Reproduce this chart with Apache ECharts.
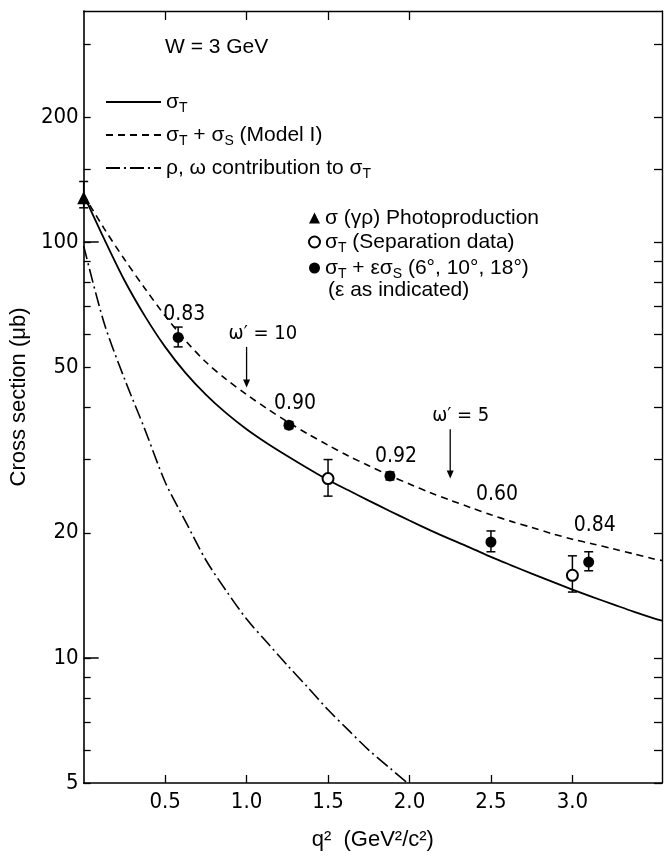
<!DOCTYPE html>
<html>
<head>
<meta charset="utf-8">
<script src="https://cdn.jsdelivr.net/npm/echarts@6/dist/echarts.min.js"></script>
<style>html,body{margin:0;background:#fff}#chart{width:665px;height:859px}</style>
</head>
<body>
<div id="chart"></div>
<script>
// model curves, q^2 in GeV^2/c^2, cross sections in microbarn
const qCurve = [0, 0.125, 0.25, 0.375, 0.5, 0.625, 0.75, 0.875, 1.0, 1.125, 1.25, 1.375, 1.5, 1.625, 1.75, 1.875,
  2.0, 2.125, 2.25, 2.375, 2.5, 2.625, 2.75, 2.875, 3.0, 3.125, 3.25, 3.375, 3.5, 3.55];
const sigmaT = [130, 102, 81, 66.5, 56, 48.5, 43, 38.8, 35.5, 32.85, 30.6, 28.6, 26.8, 25.3, 23.9, 22.6,
  21.4, 20.3, 19.3, 18.4, 17.5, 16.7, 15.95, 15.26, 14.6, 14.0, 13.45, 12.92, 12.45, 12.3];
const sigmaTS = [130, 108, 91, 77.5, 66.5, 58, 51.5, 46.8, 43, 39.8, 37, 34.6, 32.5, 30.6, 29, 27.5,
  26.2, 25, 23.95, 23, 22.1, 21.3, 20.6, 19.9, 19.3, 18.8, 18.3, 17.8, 17.3, 17.15];
const qRho = [0, 0.125, 0.25, 0.375, 0.5, 0.625, 0.75, 0.875, 1.0, 1.125, 1.25, 1.375, 1.5, 1.625, 1.75, 1.875, 2.0, 2.125];
const rhoOmega = [98, 64, 47, 35.5, 26.5, 21.3, 17.2, 14.5, 12.4, 10.9, 9.6, 8.5, 7.5, 6.7, 6.0, 5.45, 4.95, 4.5];

// measured points
const photoQ = [0], photoY = [128], photoLo = [121], photoHi = [140];
const sepQ = [1.5, 3.0], sepY = [27, 15.8], sepLo = [24.5, 14.4], sepHi = [30, 17.6];
const epsQ = [0.58, 1.26, 1.88, 2.5, 3.1];
const epsY = [59, 36.3, 27.4, 19.0, 17.0];
const epsLo = [56, 35.6, 26.8, 18.0, 16.2];
const epsHi = [62.5, 37, 28, 20.2, 18.0];
const epsText = ['0.83', '0.90', '0.92', '0.60', '0.84'];

// omega' markers
const arrowQ = [1.0, 2.25], arrowFrom = [56, 35.5], arrowTo = [44.7, 27];
const arrowText = ['ω′ = 10', 'ω′ = 5'];

// axes
const xLabels = [0.5, 1.0, 1.5, 2.0, 2.5, 3.0];
const xTopTicks = [0.5, 1.0, 1.5, 2.0];
const yLabels = [5, 10, 20, 50, 100, 200];
const yTicks = [5, 6, 7, 8, 9, 10, 20, 30, 40, 50, 60, 70, 80, 90, 100, 150, 200, 300];
const yMajor = [10, 100];

const FONT = "'Liberation Sans', 'DejaVu Sans', sans-serif";
const NARROW = "'Liberation Sans Narrow', 'DejaVu Sans Condensed', 'Liberation Sans', sans-serif";
const black = '#000';
const labelRise = [7, 6, 3, 31, 21];

const pairs = (xs, ys) => xs.map((x, i) => [x, ys[i]]);
const bars = (xs, lo, hi) => xs.map((x, i) => [x, lo[i], hi[i]]);

function errorBar(params, api) {
  const x = api.value(0);
  const top = api.coord([x, api.value(2)]);
  const bot = api.coord([x, api.value(1)]);
  const w = 4.5, st = { stroke: black, lineWidth: 1.5 };
  return { type: 'group', children: [
    { type: 'line', shape: { x1: top[0], y1: top[1], x2: bot[0], y2: bot[1] }, style: st },
    { type: 'line', shape: { x1: top[0] - w, y1: top[1], x2: top[0] + w, y2: top[1] }, style: st },
    { type: 'line', shape: { x1: bot[0] - w, y1: bot[1], x2: bot[0] + w, y2: bot[1] }, style: st }
  ]};
}

function arrow(params, api) {
  const x = api.value(0);
  const p0 = api.coord([x, api.value(1)]);
  const p1 = api.coord([x, api.value(2)]);
  return { type: 'group', children: [
    { type: 'line', shape: { x1: p0[0], y1: p0[1], x2: p1[0], y2: p1[1] - 6 }, style: { stroke: black, lineWidth: 1.3 } },
    { type: 'polygon', shape: { points: [[p1[0] - 3.5, p1[1] - 8], [p1[0] + 3.5, p1[1] - 8], [p1[0], p1[1]]] }, style: { fill: black } },
    { type: 'text', x: p0[0] - 18, y: p0[1] - 3, style: { text: arrowText[params.dataIndex], fontSize: 20, fontFamily: NARROW, fill: black, verticalAlign: 'bottom' } }
  ]};
}

const rich = {
  s: { fontSize: 14, fontFamily: FONT, color: black, padding: [12, 0, 0, 0] }
};
const legendText = {
  'sT': 'σ{s|T}',
  'sTS': 'σ{s|T} + σ{s|S} (Model I)',
  'rho': 'ρ, ω contribution to σ{s|T}',
  'photo': 'σ (γρ) Photoproduction',
  'sep': 'σ{s|T} (Separation data)',
  'eps': 'σ{s|T} + εσ{s|S} (6°, 10°, 18°)'
};

const logAxis = (extra) => Object.assign({
  type: 'log', logBase: 10, min: 5, max: 360,
  splitLine: { show: false }, minorTick: { show: false },
  axisLine: { show: false }, axisLabel: { show: false }, axisTick: { show: false }
}, extra);

const curveStyle = { smooth: 0.3, symbol: 'none', itemStyle: { color: black } };

const chart = echarts.init(document.getElementById('chart'));
chart.setOption({
  backgroundColor: '#fff',
  animation: false,
  title: {
    text: 'W = 3 GeV', left: 160, top: 32,
    textStyle: { fontSize: 21, fontWeight: 'normal', fontFamily: FONT, color: black }
  },
  grid: { left: 73, right: 3, top: 11, bottom: 76 },
  legend: [
    {
      data: ['sT', 'sTS', 'rho'], orient: 'vertical', left: 100, top: 86,
      itemWidth: 55, itemHeight: 14, itemGap: 9, selectedMode: false,
      itemStyle: { color: 'rgba(0,0,0,0)', opacity: 0, borderWidth: 0 },
      formatter: n => legendText[n],
      textStyle: { fontSize: 21, lineHeight: 22, fontFamily: FONT, color: black, rich: rich }
    },
    {
      data: [{ name: 'photo', icon: 'triangle' }, { name: 'sep', icon: 'emptyCircle' }, { name: 'eps', icon: 'circle' }],
      orient: 'vertical', left: 303, top: 202,
      itemWidth: 11, itemHeight: 11, itemGap: 2, selectedMode: false,
      formatter: n => legendText[n],
      textStyle: { fontSize: 21, lineHeight: 22, fontFamily: FONT, color: black, rich: rich }
    }
  ],
  graphic: [{
    type: 'text', left: 328, top: 280,
    style: { text: '(ε as indicated)', fontSize: 21, fontFamily: FONT, fill: black }
  }],
  xAxis: [
    {
      type: 'value', min: 0, max: 3.55, position: 'bottom',
      splitLine: { show: false },
      axisLine: { onZero: false, lineStyle: { color: black, width: 1.6 } },
      axisTick: { inside: true, length: 8, customValues: xLabels, lineStyle: { color: black, width: 1.3 } },
      axisLabel: { customValues: xLabels, formatter: v => v.toFixed(1), margin: 8, fontSize: 22, fontFamily: NARROW, color: black },
      name: 'q²  (GeV²/c²)', nameLocation: 'middle', nameGap: 46,
      nameTextStyle: { fontSize: 22, fontFamily: FONT, color: black }
    },
    {
      type: 'value', min: 0, max: 3.55, position: 'top',
      splitLine: { show: false },
      axisLine: { onZero: false, lineStyle: { color: black, width: 1.4 } },
      axisTick: { inside: true, length: 9, customValues: xTopTicks, lineStyle: { color: black, width: 1.3 } },
      axisLabel: { show: false }
    }
  ],
  yAxis: [
    logAxis({
      position: 'left',
      axisLine: { show: true, onZero: false, lineStyle: { color: black, width: 1.6 } },
      axisTick: { show: true, inside: true, length: 7, customValues: yTicks, lineStyle: { color: black, width: 1.3 } },
      axisLabel: { show: true, customValues: yLabels, margin: 5, fontSize: 22, fontFamily: NARROW, color: black },
      name: 'Cross section (μb)', nameLocation: 'middle', nameGap: 44,
      nameTextStyle: { fontSize: 22, fontFamily: FONT, color: black }
    }),
    logAxis({
      position: 'left',
      axisTick: { show: true, inside: true, length: 15, customValues: yMajor, lineStyle: { color: black, width: 1.5 } }
    }),
    logAxis({
      position: 'right',
      axisLine: { show: true, onZero: false, lineStyle: { color: black, width: 1.4 } },
      axisTick: { show: true, inside: true, length: 8, customValues: yTicks, lineStyle: { color: black, width: 1.3 } }
    })
  ],
  series: [
    Object.assign({
      name: 'sT', type: 'line', data: pairs(qCurve, sigmaT),
      lineStyle: { color: black, width: 1.8 }
    }, curveStyle),
    Object.assign({
      name: 'sTS', type: 'line', data: pairs(qCurve, sigmaTS),
      lineStyle: { color: black, width: 1.6, type: [7, 5] }
    }, curveStyle),
    Object.assign({
      name: 'rho', type: 'line', data: pairs(qRho, rhoOmega), clip: true,
      lineStyle: { color: black, width: 1.6, type: [14, 4, 2, 4] }
    }, curveStyle),
    { type: 'custom', renderItem: errorBar, data: bars(photoQ, photoLo, photoHi), encode: { x: 0, y: [1, 2] }, clip: false, z: 3 },
    { type: 'custom', renderItem: errorBar, data: bars(sepQ, sepLo, sepHi), encode: { x: 0, y: [1, 2] }, z: 3 },
    { type: 'custom', renderItem: errorBar, data: bars(epsQ, epsLo, epsHi), encode: { x: 0, y: [1, 2] }, z: 3 },
    { type: 'custom', renderItem: arrow, data: bars(arrowQ, arrowFrom, arrowTo), encode: { x: 0, y: [1, 2] }, z: 3 },
    {
      name: 'photo', type: 'scatter', data: pairs(photoQ, photoY), symbol: 'triangle', symbolSize: 13,
      itemStyle: { color: black, opacity: 1 }, clip: false, z: 4
    },
    {
      name: 'sep', type: 'scatter', data: pairs(sepQ, sepY), symbol: 'emptyCircle', symbolSize: 11,
      itemStyle: { color: black, borderWidth: 1.6, opacity: 1 }, z: 4
    },
    {
      name: 'eps', type: 'scatter', symbol: 'circle', symbolSize: 11,
      data: epsQ.map((q, i) => ({ value: [q, epsY[i]], label: { distance: labelRise[i] } })),
      itemStyle: { color: black, opacity: 1 }, z: 4,
      label: {
        show: true, position: 'top', offset: [6, 0],
        formatter: p => epsText[p.dataIndex],
        fontSize: 21, fontFamily: NARROW, color: black, opacity: 1
      }
    }
  ]
});
</script>
</body>
</html>
